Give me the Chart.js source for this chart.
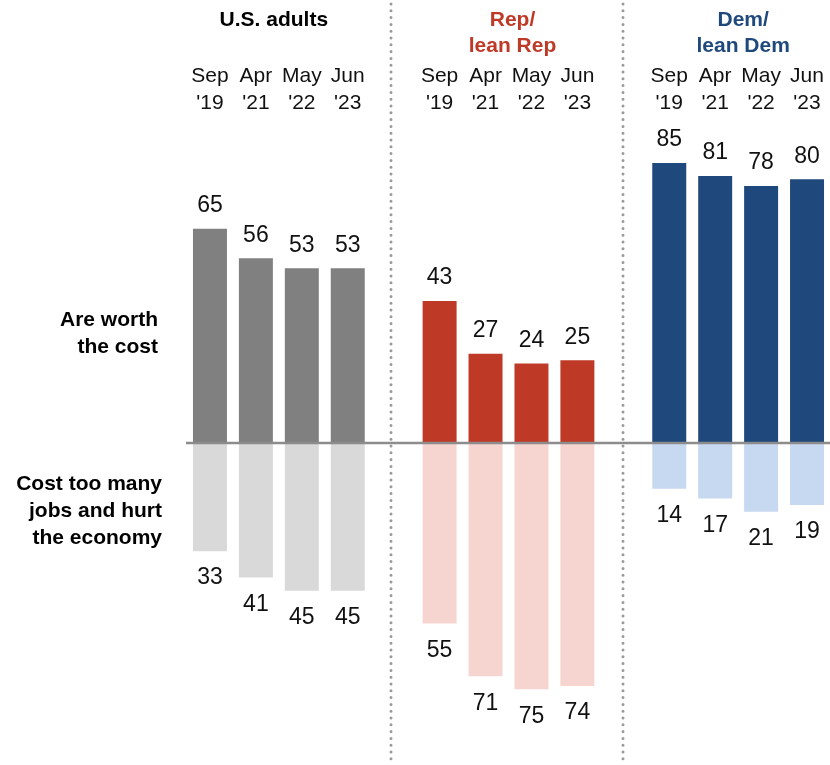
<!DOCTYPE html>
<html>
<head>
<meta charset="utf-8">
<script src="https://cdn.jsdelivr.net/npm/chart.js@4"></script>
<style>
  html,body{margin:0;padding:0;background:#fff;}
  #wrap{position:relative;width:830px;height:765px;}
</style>
</head>
<body>
<div id="wrap"><canvas id="c" width="830" height="765"></canvas></div>
<script>
// ── Data ──
const groups=['U.S. adults','Rep/\nlean Rep','Dem/\nlean Dem'];
const waves=[['Sep',"'19"],['Apr',"'21"],['May',"'22"],['Jun',"'23"]];
const worthCost={us:[65,56,53,53],rep:[43,27,24,25],dem:[85,81,78,80]};
const hurtEconomy={us:[33,41,45,45],rep:[55,71,75,74],dem:[14,17,21,19]};
const rowLabels=[['Are worth','the cost'],['Cost too many','jobs and hurt','the economy']];

const upColors={us:'#808080',rep:'#be3a27',dem:'#1f497c'};
const downColors={us:'#d9d9d9',rep:'#f6d5d1',dem:'#c6d9f0'};
const titleColors=['#000000','#be3a27','#1f497c'];
const titleShift=[-5,4,5];

// 14 slots: 4 bars, gap, 4 bars, gap, 4 bars
const keys=['us','rep','dem'];
const labels=[],up=[],down=[],upC=[],downC=[];
keys.forEach((k,gi)=>{
  for(let i=0;i<4;i++){
    labels.push(waves[i]);
    up.push(worthCost[k][i]);
    down.push(-hurtEconomy[k][i]);
    upC.push(upColors[k]);downC.push(downColors[k]);
  }
  if(gi<2){labels.push('');up.push(null);down.push(null);upC.push('#fff');downC.push('#fff');}
});

const FONT='"Liberation Sans", Arial, sans-serif';

const overlay={
  id:'overlay',
  afterDatasetsDraw(chart){
    const ctx=chart.ctx, x=chart.scales.x, y=chart.scales.y;
    const y0=y.getPixelForValue(0);
    ctx.save();
    // zero line
    ctx.strokeStyle='#8c8c8c';ctx.lineWidth=2.5;
    ctx.beginPath();ctx.moveTo(186,y0+0.5);ctx.lineTo(830,y0+0.5);ctx.stroke();
    // dotted separators
    ctx.strokeStyle='#9a9a9a';ctx.lineWidth=3;ctx.lineCap='round';ctx.setLineDash([0,6.8]);
    [[4,-3],[9,0]].forEach(([i,d])=>{
      const px=Math.round(x.getPixelForValue(i))+d;
      ctx.beginPath();ctx.moveTo(px,4);ctx.lineTo(px,765);ctx.stroke();
    });
    ctx.setLineDash([]);
    // value labels
    ctx.fillStyle='#111';ctx.font='23px '+FONT;ctx.textAlign='center';ctx.textBaseline='middle';
    chart.getDatasetMeta(0).data.forEach((b,i)=>{
      if(up[i]==null)return;
      ctx.fillText(String(up[i]),b.x,b.y-23);
    });
    chart.getDatasetMeta(1).data.forEach((b,i)=>{
      if(down[i]==null)return;
      ctx.fillText(String(-down[i]),b.x,b.y+27);
    });
    // wave tick labels
    ctx.font='21px '+FONT;ctx.fillStyle='#111';
    labels.forEach((l,i)=>{
      if(!l)return;
      const px=x.getPixelForValue(i);
      ctx.fillText(l[0],px,76);
      ctx.fillText(l[1],px,103);
    });
    // group titles
    ctx.font='bold 21px '+FONT;
    groups.forEach((g,gi)=>{
      const a=x.getPixelForValue(gi*5), b=x.getPixelForValue(gi*5+3);
      const cx=(a+b)/2+titleShift[gi];
      ctx.fillStyle=titleColors[gi];
      g.split('\n').forEach((line,li)=>ctx.fillText(line,cx,20+li*26));
    });
    // row labels
    ctx.fillStyle='#000';ctx.textAlign='right';
    rowLabels[0].forEach((line,li)=>ctx.fillText(line,158,320+li*27));
    rowLabels[1].forEach((line,li)=>ctx.fillText(line,162,484+li*27));
    ctx.restore();
  }
};

new Chart(document.getElementById('c'),{
  type:'bar',
  data:{labels,datasets:[
    {label:'Are worth the cost',data:up,backgroundColor:upC,stack:'s',categoryPercentage:1,barPercentage:0.74},
    {label:'Cost too many jobs and hurt the economy',data:down,backgroundColor:downC,stack:'s',categoryPercentage:1,barPercentage:0.74}
  ]},
  options:{
    responsive:false,animation:false,
    layout:{padding:{left:187,right:0,top:130,bottom:25}},
    scales:{
      x:{display:false,stacked:true},
      y:{display:false,stacked:true,min:-90.4,max:95}
    },
    plugins:{legend:{display:false},tooltip:{enabled:false}}
  },
  plugins:[overlay]
});
</script>
</body>
</html>
